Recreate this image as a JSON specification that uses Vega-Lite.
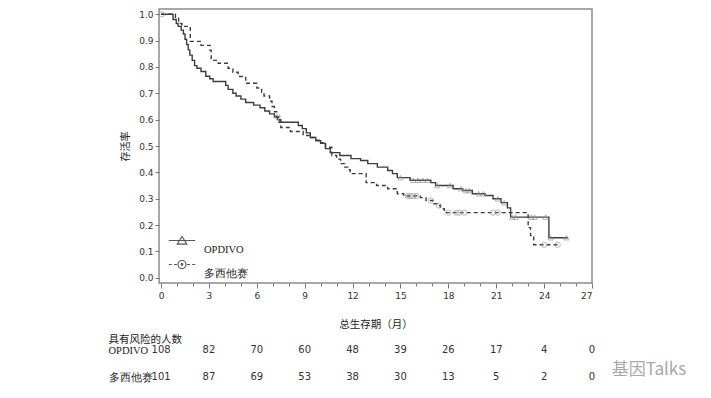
{
  "$schema": "https://vega.github.io/schema/vega-lite/v6.json",
  "background": "white",
  "padding": {"left": 108, "top": 8, "right": 5, "bottom": 5},
  "config": {
    "view": {"stroke": null},
    "font": "DejaVu Sans",
    "axis": {"grid": false, "labelOverlap": false, "labelColor": "#333", "titleColor": "#222", "tickColor": "#777", "domainColor": "#8c8c8c"}
  },
  "datasets": {
    "km": [
      {"group": "OPDIVO", "t": 0, "s": 1.0},
      {"group": "OPDIVO", "t": 0.75, "s": 0.98},
      {"group": "OPDIVO", "t": 0.95, "s": 0.965},
      {"group": "OPDIVO", "t": 1.07, "s": 0.954},
      {"group": "OPDIVO", "t": 1.26, "s": 0.94},
      {"group": "OPDIVO", "t": 1.4, "s": 0.925},
      {"group": "OPDIVO", "t": 1.5, "s": 0.905},
      {"group": "OPDIVO", "t": 1.6, "s": 0.885},
      {"group": "OPDIVO", "t": 1.7, "s": 0.865},
      {"group": "OPDIVO", "t": 1.8, "s": 0.845},
      {"group": "OPDIVO", "t": 1.95, "s": 0.825},
      {"group": "OPDIVO", "t": 2.1, "s": 0.805},
      {"group": "OPDIVO", "t": 2.25, "s": 0.795},
      {"group": "OPDIVO", "t": 2.5, "s": 0.783},
      {"group": "OPDIVO", "t": 2.8, "s": 0.765},
      {"group": "OPDIVO", "t": 3.05, "s": 0.755},
      {"group": "OPDIVO", "t": 3.26, "s": 0.745},
      {"group": "OPDIVO", "t": 4.05, "s": 0.73},
      {"group": "OPDIVO", "t": 4.2, "s": 0.715},
      {"group": "OPDIVO", "t": 4.5, "s": 0.7},
      {"group": "OPDIVO", "t": 4.7, "s": 0.69},
      {"group": "OPDIVO", "t": 5.0, "s": 0.678},
      {"group": "OPDIVO", "t": 5.3, "s": 0.665},
      {"group": "OPDIVO", "t": 5.8, "s": 0.655},
      {"group": "OPDIVO", "t": 6.2, "s": 0.645},
      {"group": "OPDIVO", "t": 6.5, "s": 0.633},
      {"group": "OPDIVO", "t": 6.8, "s": 0.622},
      {"group": "OPDIVO", "t": 7.1, "s": 0.61},
      {"group": "OPDIVO", "t": 7.3, "s": 0.6},
      {"group": "OPDIVO", "t": 7.5, "s": 0.59},
      {"group": "OPDIVO", "t": 8.6, "s": 0.578},
      {"group": "OPDIVO", "t": 8.85, "s": 0.566},
      {"group": "OPDIVO", "t": 9.1, "s": 0.55},
      {"group": "OPDIVO", "t": 9.35, "s": 0.532},
      {"group": "OPDIVO", "t": 9.7, "s": 0.52},
      {"group": "OPDIVO", "t": 10.0, "s": 0.51},
      {"group": "OPDIVO", "t": 10.3, "s": 0.49},
      {"group": "OPDIVO", "t": 10.6, "s": 0.475},
      {"group": "OPDIVO", "t": 11.2, "s": 0.464},
      {"group": "OPDIVO", "t": 11.9, "s": 0.452},
      {"group": "OPDIVO", "t": 12.5, "s": 0.445},
      {"group": "OPDIVO", "t": 12.95, "s": 0.433},
      {"group": "OPDIVO", "t": 13.55, "s": 0.42},
      {"group": "OPDIVO", "t": 14.2, "s": 0.407},
      {"group": "OPDIVO", "t": 14.5, "s": 0.395},
      {"group": "OPDIVO", "t": 14.8, "s": 0.38},
      {"group": "OPDIVO", "t": 15.6, "s": 0.37},
      {"group": "OPDIVO", "t": 16.9, "s": 0.361},
      {"group": "OPDIVO", "t": 17.2, "s": 0.35},
      {"group": "OPDIVO", "t": 18.3, "s": 0.338},
      {"group": "OPDIVO", "t": 18.9, "s": 0.331},
      {"group": "OPDIVO", "t": 19.5, "s": 0.319},
      {"group": "OPDIVO", "t": 20.3, "s": 0.312},
      {"group": "OPDIVO", "t": 20.8, "s": 0.3},
      {"group": "OPDIVO", "t": 21.3, "s": 0.285},
      {"group": "OPDIVO", "t": 21.7, "s": 0.265},
      {"group": "OPDIVO", "t": 21.9, "s": 0.23},
      {"group": "OPDIVO", "t": 24.3, "s": 0.152},
      {"group": "OPDIVO", "t": 25.5, "s": 0.152},
      {"group": "多西他赛", "t": 0, "s": 1.0},
      {"group": "多西他赛", "t": 0.9, "s": 0.985},
      {"group": "多西他赛", "t": 1.1, "s": 0.965},
      {"group": "多西他赛", "t": 1.3, "s": 0.954},
      {"group": "多西他赛", "t": 1.83, "s": 0.897},
      {"group": "多西他赛", "t": 2.5, "s": 0.882},
      {"group": "多西他赛", "t": 3.07, "s": 0.863},
      {"group": "多西他赛", "t": 3.14, "s": 0.825},
      {"group": "多西他赛", "t": 3.58, "s": 0.814},
      {"group": "多西他赛", "t": 4.2, "s": 0.795},
      {"group": "多西他赛", "t": 4.5, "s": 0.78},
      {"group": "多西他赛", "t": 4.83, "s": 0.764},
      {"group": "多西他赛", "t": 5.3, "s": 0.738},
      {"group": "多西他赛", "t": 6.0, "s": 0.72},
      {"group": "多西他赛", "t": 6.3, "s": 0.7},
      {"group": "多西他赛", "t": 6.45, "s": 0.69},
      {"group": "多西他赛", "t": 6.8, "s": 0.67},
      {"group": "多西他赛", "t": 6.95, "s": 0.65},
      {"group": "多西他赛", "t": 7.1, "s": 0.63},
      {"group": "多西他赛", "t": 7.25, "s": 0.61},
      {"group": "多西他赛", "t": 7.4, "s": 0.59},
      {"group": "多西他赛", "t": 7.5, "s": 0.57},
      {"group": "多西他赛", "t": 8.1, "s": 0.555},
      {"group": "多西他赛", "t": 8.9, "s": 0.54},
      {"group": "多西他赛", "t": 9.3, "s": 0.532},
      {"group": "多西他赛", "t": 9.6, "s": 0.522},
      {"group": "多西他赛", "t": 9.9, "s": 0.513},
      {"group": "多西他赛", "t": 10.3, "s": 0.495},
      {"group": "多西他赛", "t": 10.7, "s": 0.464},
      {"group": "多西他赛", "t": 11.0, "s": 0.45},
      {"group": "多西他赛", "t": 11.25, "s": 0.433},
      {"group": "多西他赛", "t": 11.5, "s": 0.42},
      {"group": "多西他赛", "t": 11.7, "s": 0.41},
      {"group": "多西他赛", "t": 11.85, "s": 0.395},
      {"group": "多西他赛", "t": 12.85, "s": 0.361},
      {"group": "多西他赛", "t": 13.5, "s": 0.35},
      {"group": "多西他赛", "t": 14.2, "s": 0.338},
      {"group": "多西他赛", "t": 14.8, "s": 0.319},
      {"group": "多西他赛", "t": 15.2, "s": 0.31},
      {"group": "多西他赛", "t": 16.25, "s": 0.304},
      {"group": "多西他赛", "t": 16.6, "s": 0.293},
      {"group": "多西他赛", "t": 17.1, "s": 0.281},
      {"group": "多西他赛", "t": 17.3, "s": 0.274},
      {"group": "多西他赛", "t": 17.5, "s": 0.262},
      {"group": "多西他赛", "t": 17.75, "s": 0.247},
      {"group": "多西他赛", "t": 23.0, "s": 0.19},
      {"group": "多西他赛", "t": 23.15, "s": 0.16},
      {"group": "多西他赛", "t": 23.35, "s": 0.125},
      {"group": "多西他赛", "t": 24.9, "s": 0.125}
    ],
    "censor": [
      {"group": "OPDIVO", "t": 15.0, "s": 0.38},
      {"group": "OPDIVO", "t": 15.8, "s": 0.37},
      {"group": "OPDIVO", "t": 16.1, "s": 0.37},
      {"group": "OPDIVO", "t": 16.4, "s": 0.37},
      {"group": "OPDIVO", "t": 16.7, "s": 0.37},
      {"group": "OPDIVO", "t": 17.3, "s": 0.35},
      {"group": "OPDIVO", "t": 18.1, "s": 0.35},
      {"group": "OPDIVO", "t": 18.8, "s": 0.338},
      {"group": "OPDIVO", "t": 19.1, "s": 0.331},
      {"group": "OPDIVO", "t": 19.3, "s": 0.331},
      {"group": "OPDIVO", "t": 19.9, "s": 0.319},
      {"group": "OPDIVO", "t": 20.2, "s": 0.319},
      {"group": "OPDIVO", "t": 21.1, "s": 0.3},
      {"group": "OPDIVO", "t": 21.5, "s": 0.285},
      {"group": "OPDIVO", "t": 22.0, "s": 0.23},
      {"group": "OPDIVO", "t": 22.2, "s": 0.23},
      {"group": "OPDIVO", "t": 23.2, "s": 0.23},
      {"group": "OPDIVO", "t": 23.4, "s": 0.23},
      {"group": "OPDIVO", "t": 24.1, "s": 0.23},
      {"group": "OPDIVO", "t": 24.4, "s": 0.152},
      {"group": "OPDIVO", "t": 25.4, "s": 0.152},
      {"group": "多西他赛", "t": 0.05, "s": 1.0},
      {"group": "多西他赛", "t": 7.3, "s": 0.61},
      {"group": "多西他赛", "t": 15.45, "s": 0.31},
      {"group": "多西他赛", "t": 15.6, "s": 0.31},
      {"group": "多西他赛", "t": 15.8, "s": 0.31},
      {"group": "多西他赛", "t": 16.0, "s": 0.31},
      {"group": "多西他赛", "t": 16.9, "s": 0.293},
      {"group": "多西他赛", "t": 17.4, "s": 0.274},
      {"group": "多西他赛", "t": 18.0, "s": 0.247},
      {"group": "多西他赛", "t": 18.5, "s": 0.247},
      {"group": "多西他赛", "t": 18.7, "s": 0.247},
      {"group": "多西他赛", "t": 19.0, "s": 0.247},
      {"group": "多西他赛", "t": 20.8, "s": 0.247},
      {"group": "多西他赛", "t": 21.1, "s": 0.247},
      {"group": "多西他赛", "t": 24.0, "s": 0.125},
      {"group": "多西他赛", "t": 24.85, "s": 0.125}
    ],
    "risk": [
      {"group": "OPDIVO", "month": 0, "n": 108},
      {"group": "OPDIVO", "month": 3, "n": 82},
      {"group": "OPDIVO", "month": 6, "n": 70},
      {"group": "OPDIVO", "month": 9, "n": 60},
      {"group": "OPDIVO", "month": 12, "n": 48},
      {"group": "OPDIVO", "month": 15, "n": 39},
      {"group": "OPDIVO", "month": 18, "n": 26},
      {"group": "OPDIVO", "month": 21, "n": 17},
      {"group": "OPDIVO", "month": 24, "n": 4},
      {"group": "OPDIVO", "month": 27, "n": 0},
      {"group": "多西他赛", "month": 0, "n": 101},
      {"group": "多西他赛", "month": 3, "n": 87},
      {"group": "多西他赛", "month": 6, "n": 69},
      {"group": "多西他赛", "month": 9, "n": 53},
      {"group": "多西他赛", "month": 12, "n": 38},
      {"group": "多西他赛", "month": 15, "n": 30},
      {"group": "多西他赛", "month": 18, "n": 13},
      {"group": "多西他赛", "month": 21, "n": 5},
      {"group": "多西他赛", "month": 24, "n": 2},
      {"group": "多西他赛", "month": 27, "n": 0}
    ]
  },
  "title": {
    "text": "基因Talks",
    "orient": "bottom",
    "anchor": "end",
    "font": "Noto Sans CJK SC",
    "fontSize": 17,
    "fontWeight": "normal",
    "color": "#a8a8a8",
    "dx": 91,
    "dy": -25
  },
  "spacing": 67,
  "bounds": "flush",
  "vconcat": [
    {
      "width": 433,
      "height": 274,
      "view": {"stroke": "#8c8c8c", "strokeWidth": 1.5},
      "encoding": {
        "x": {
          "field": "t", "type": "quantitative",
          "scale": {"domain": [-0.13, 27], "nice": false, "zero": false},
          "axis": {
            "title": "总生存期（月）",
            "titleFont": "Noto Sans CJK SC", "titleFontSize": 10.5, "titleFontWeight": "normal", "titlePadding": 19,
            "values": [0,1,2,3,4,5,6,7,8,9,10,11,12,13,14,15,16,17,18,19,20,21,22,23,24,25,26,27],
            "labelExpr": "datum.value % 3 === 0 ? datum.label : ''",
            "labelOverlap": false, "labelFontSize": 9, "labelPadding": 3,
            "tickSize": {"condition": {"test": "datum.value % 3 === 0", "value": 5}, "value": 3},
            "domain": false
          }
        },
        "y": {
          "field": "s", "type": "quantitative",
          "scale": {"domain": [-0.02, 1.02], "nice": false, "zero": false},
          "axis": {
            "title": "存活率",
            "titleFont": "Noto Sans CJK SC", "titleFontSize": 10, "titleFontWeight": "normal", "titlePadding": 8,
            "values": [0, 0.1, 0.2, 0.3, 0.4, 0.5, 0.6, 0.7, 0.8, 0.9, 1.0],
            "labelOverlap": false,
            "format": ".1f", "labelFontSize": 9, "labelPadding": 2, "tickSize": 4,
            "domain": false
          }
        }
      },
      "layer": [
        {
          "data": {"name": "km"},
          "mark": {"type": "line", "interpolate": "step-after", "strokeWidth": 1.4, "color": "#3d3d3d"},
          "encoding": {
            "strokeDash": {
              "field": "group", "type": "nominal",
              "scale": {"domain": ["OPDIVO", "多西他赛"], "range": [[1, 0], [4, 3]]},
              "legend": null
            }
          }
        },
        {
          "data": {"name": "censor"},
          "mark": {"type": "point", "size": 28, "strokeWidth": 1, "color": "#9a9a9a", "filled": false},
          "encoding": {
            "shape": {
              "field": "group", "type": "nominal",
              "scale": {"domain": ["OPDIVO", "多西他赛"], "range": ["triangle-up", "circle"]},
              "legend": null
            }
          }
        },
        {
          "data": {"name": "censor"},
          "mark": {"type": "point", "opacity": 0, "color": "#555", "filled": false},
          "encoding": {
            "shape": {
              "field": "group", "type": "nominal",
              "scale": {
                "domain": ["OPDIVO", "多西他赛"],
                "range": [
                  "M-2.2,-0.75H2.2M0,-1.42L0.8,-0.15L-0.8,-0.15Z",
                  "M-2.2,-0.75H-1.7M-1.35,-0.75H-0.85M0.85,-0.75H1.35M1.7,-0.75H2.2M-0.67,-0.75A0.67,0.67,0,1,1,0.67,-0.75A0.67,0.67,0,1,1,-0.67,-0.75ZM-0.15,-0.75A0.15,0.15,0,1,1,0.15,-0.75A0.15,0.15,0,1,1,-0.15,-0.75Z"
                ]
              },
              "legend": {
                "title": null,
                "orient": "none",
                "legendX": 16,
                "legendY": 229,
                "padding": 0,
                "symbolSize": 144,
                "symbolOpacity": 1,
                "symbolStrokeColor": "#555",
                "symbolFillColor": "transparent",
                "symbolStrokeWidth": 1.1,
                "labelFont": "Liberation Serif",
                "labelFontSize": 10.5,
                "labelColor": "#222",
                "labelBaseline": "top",
                "labelOffset": 15,
                "rowPadding": 2
              }
            }
          }
        }
      ],
      "resolve": {"scale": {"shape": "independent"}}
    },
    {
      "width": 433,
      "height": 27,
      "data": {"name": "risk"},
      "mark": {"type": "text", "fontSize": 10, "color": "#333"},
      "encoding": {
        "x": {"field": "month", "type": "quantitative", "scale": {"domain": [-0.13, 27], "nice": false, "zero": false}, "axis": null},
        "y": {
          "field": "group", "type": "nominal",
          "scale": {"type": "point", "padding": 0, "domain": ["OPDIVO", "多西他赛"]},
          "axis": {
            "title": "具有风险的人数",
            "titleAngle": 0, "titleAlign": "left", "titleBaseline": "middle",
            "titleX": -51, "titleY": -11,
            "titleFont": "Noto Sans CJK SC", "titleFontSize": 10.5, "titleFontWeight": "normal", "titleColor": "#222",
            "labelAlign": "left", "labelPadding": 51, "ticks": false, "tickSize": 0, "domain": false,
            "labelFont": "Liberation Serif", "labelFontSize": 10.5, "labelColor": "#222"
          }
        },
        "text": {"field": "n", "type": "quantitative"}
      }
    }
  ]
}
